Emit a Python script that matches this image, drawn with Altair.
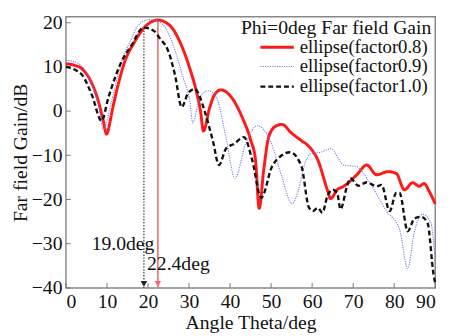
import altair as alt
import pandas as pd

# ---- data ----
red_x = [0, 2, 4, 6.3, 7.9, 9.1, 9.9, 10.7, 11.1, 12.7, 14.3, 16.7, 19.1, 22.4, 25.4, 27.8, 30.2, 31.8, 32.8, 33.5,
         35, 36.2, 37.8, 40, 43, 45, 46.2, 47.1, 48.2, 49.4, 51, 52.6, 55, 57.4, 59, 61.4, 63.7, 64.5, 66.1, 67.7,
         70.9, 73.3, 75.7, 78.5, 80.5, 82.5, 84.5, 86.1, 87.3, 88.5, 90]
red_y = [10.7, 10.4, 9.5, 6.3, 2.2, -2.2, -5.2, -2.6, -0.7, 5.9, 11.1, 15.6, 18.9, 20.6, 19.3, 15.6, 9.6, 4.4, 0, -4.5,
         0.7, 3.7, 4.8, 3.5, -1.5, -6.5, -11.1, -22.0, -13.3, -5.9, -3.5, -3.0, -5.0, -6.7, -7.8, -11.1, -17.8, -19.8, -17.8, -17.0,
         -14.4, -12.2, -14.4, -13.7, -14.1, -17.8, -16.2, -17.0, -16.4, -18.1, -21.0]

blue_x = [0, 2, 4, 6, 8, 9.1, 11.1, 13.5, 15.9, 17.5, 20.3, 22.3, 24.7, 26.2, 28.6, 30.2, 30.9, 32.6, 34.6, 36.6,
          39, 41.2, 43.8, 46.6, 49.8, 52.6, 55.1, 56.6, 58.2, 59.8, 62.1, 64.5, 67.7, 70.9, 74.1, 78.1, 81.3, 83.3,
          84.9, 86.9, 88.9, 90]
blue_y = [11.5, 11.2, 10.0, 6.8, 1.0, -4.1, 2.2, 11.1, 16.3, 19.3, 20.7, 20.4, 18.1, 14.8, 7.4, 2.2, -2.6, 3.0, 4.6, 3.3,
          -6.0, -15.2, -7.4, -3.3, -6.7, -14.8, -21.0, -18.0, -11.9, -9.6, -9.3, -8.5, -12.2, -12.6, -16.3, -22.6, -26.7, -35.6,
          -27.4, -23.3, -25.2, -34.0]

black_x = [0, 2.3, 4, 6.3, 8.7, 10.3, 11.9, 13.5, 15.9, 19.0, 21.5, 23, 24.7, 26.6, 28.2, 29.8, 31.4, 32.6, 33.8, 35.8,
           37.3, 39, 41, 43.4, 45.4, 47.6, 50.2, 52.6, 54.6, 57.4, 59.2, 60.2, 61.4, 62.5, 63.7, 65, 66.1, 66.9, 68.5,
           69.3, 71.3, 73.3, 75.7, 76.9, 78.9, 80.5, 81.3, 83.3, 84.9, 86.5, 88.1, 89.6, 90]
black_y = [10.0, 9.3, 8.1, 3.7, -2.2, 2.9, 7.4, 11.1, 14.8, 18.9, 18.1, 16.3, 14.1, 8.1, 0.9, 4.1, 5.0, 3.3, 0, -6.7,
           -12.2, -8.5, -7.4, -5.9, -11.1, -19.6, -12.6, -10.0, -9.3, -12.5, -21.8, -22.6, -21.9, -23.0, -19.3, -17.8, -18.5, -22.2, -17.0,
           -15.2, -16.9, -16.1, -17.0, -16.7, -22.6, -18.5, -18.5, -27.2, -24.3, -23.9, -25.2, -37.0, -39.0]

series_names = ["ellipse(factor0.8)", "ellipse(factor0.9)", "ellipse(factor1.0)"]
series_colors = ["#ff1a1a", "#6f7fe0", "#111111"]
series_dash = [[1, 0], [1.2, 1.2], [5, 3]]
series_width = [3, 1.1, 2.4]

peak_angles = [19.0, 22.4]
peak_gains = [18.9, 20.6]
peak_labels = ["19.0deg", "22.4deg"]
peak_label_x = [13.9, 27.4]
peak_label_y = [-30.0, -34.7]
peak_colors = ["#222222", "#f26b6b"]

x_ticks = list(range(0, 91, 10))
y_ticks = list(range(-40, 21, 10))

FONT = "Liberation Serif"

rows = []
for name, xs, ys in zip(series_names, [red_x, blue_x, black_x], [red_y, blue_y, black_y]):
    for xv, yv in zip(xs, ys):
        rows.append({"theta": xv, "gain": yv, "series": name})
df = pd.DataFrame(rows)

xscale = alt.Scale(domain=[0, 90], nice=False, zero=False)
yscale = alt.Scale(domain=[-40, 21.33], nice=False, zero=False)

X = alt.X("theta:Q", scale=xscale,
          axis=alt.Axis(values=x_ticks, title="Angle Theta/deg", tickSize=0, domain=False, grid=False,
                        labelPadding=4, titlePadding=1))
Y = alt.Y("gain:Q", scale=yscale,
          axis=alt.Axis(values=y_ticks, title="Far field Gain/dB", tickSize=0, domain=False, grid=False,
                        labelPadding=4, titlePadding=1))

legend = alt.Legend(title=None, orient="none", legendX=188, legendY=21, symbolType="M0,0H4",
                    symbolSize=289, labelFont=FONT, labelFontSize=19, labelColor="#111",
                    labelOffset=30, padding=0, rowPadding=0, labelLimit=300)

lines = alt.Chart(df).mark_line(interpolate="monotone").encode(
    x=X, y=Y,
    color=alt.Color("series:N", scale=alt.Scale(domain=series_names, range=series_colors), legend=legend),
    strokeDash=alt.StrokeDash("series:N", scale=alt.Scale(domain=series_names, range=series_dash), legend=legend),
    strokeWidth=alt.StrokeWidth("series:N", scale=alt.Scale(type="ordinal", domain=series_names, range=series_width),
                                legend=legend),
    order="theta:Q",
)

mk = pd.DataFrame({"angle": peak_angles, "gain": peak_gains, "bottom": [-40, -40],
                   "label": peak_labels, "lx": peak_label_x, "ly": peak_label_y, "col": peak_colors})

vblack = alt.Chart(mk.iloc[[0]]).mark_rule(color="#333", strokeDash=[1.5, 1.5], strokeWidth=1.2).encode(
    x=alt.X("angle:Q", scale=xscale), y=alt.Y("gain:Q", scale=yscale), y2="bottom:Q")
vred = alt.Chart(mk.iloc[[1]]).mark_rule(color="#f26b6b", strokeWidth=1.6).encode(
    x=alt.X("angle:Q", scale=xscale), y=alt.Y("gain:Q", scale=yscale), y2="bottom:Q")
arrows = alt.Chart(mk).mark_point(shape="triangle-down", filled=True, size=45, opacity=1, yOffset=-4).encode(
    x=alt.X("angle:Q", scale=xscale), y=alt.Y("bottom:Q", scale=yscale),
    color=alt.Color("col:N", scale=None))
labels = alt.Chart(mk).mark_text(font=FONT, fontSize=20, color="#111", align="center", baseline="middle").encode(
    x=alt.X("lx:Q", scale=xscale), y=alt.Y("ly:Q", scale=yscale), text="label:N")

ltitle = alt.Chart(pd.DataFrame({"t": ["Phi=0deg Far field Gain"], "x": [90], "y": [18.7]})).mark_text(
    font=FONT, fontSize=20, color="#111", align="right", baseline="middle", dx=-4).encode(
    x=alt.X("x:Q", scale=xscale), y=alt.Y("y:Q", scale=yscale), text="t:N")

xt = pd.DataFrame({"v": x_ticks, "a": [-40] * len(x_ticks), "b": [-38.9] * len(x_ticks)})
xticks = alt.Chart(xt).mark_rule(color="#777", strokeWidth=1).encode(
    x=alt.X("v:Q", scale=xscale), y=alt.Y("a:Q", scale=yscale), y2="b:Q")
yt = pd.DataFrame({"v": y_ticks, "a": [0] * len(y_ticks), "b": [1.2] * len(y_ticks)})
yticks = alt.Chart(yt).mark_rule(color="#777", strokeWidth=1).encode(
    y=alt.Y("v:Q", scale=yscale), x=alt.X("a:Q", scale=xscale), x2="b:Q")

chart = alt.layer(xticks, yticks, vblack, vred, lines, arrows, labels, ltitle).properties(
    width=376, height=276,
    background="white",
    autosize=alt.AutoSizeParams(type="none"),
    padding={"left": 59, "top": 6, "right": 13, "bottom": 46},
).configure_view(stroke="#888", strokeWidth=1.5).configure_axis(
    labelFont=FONT, titleFont=FONT, labelFontSize=20, titleFontSize=20,
    labelColor="#111", titleColor="#111", titleFontWeight="normal",
)

chart.save("out.html", embed_options={"renderer": "svg", "actions": False})
